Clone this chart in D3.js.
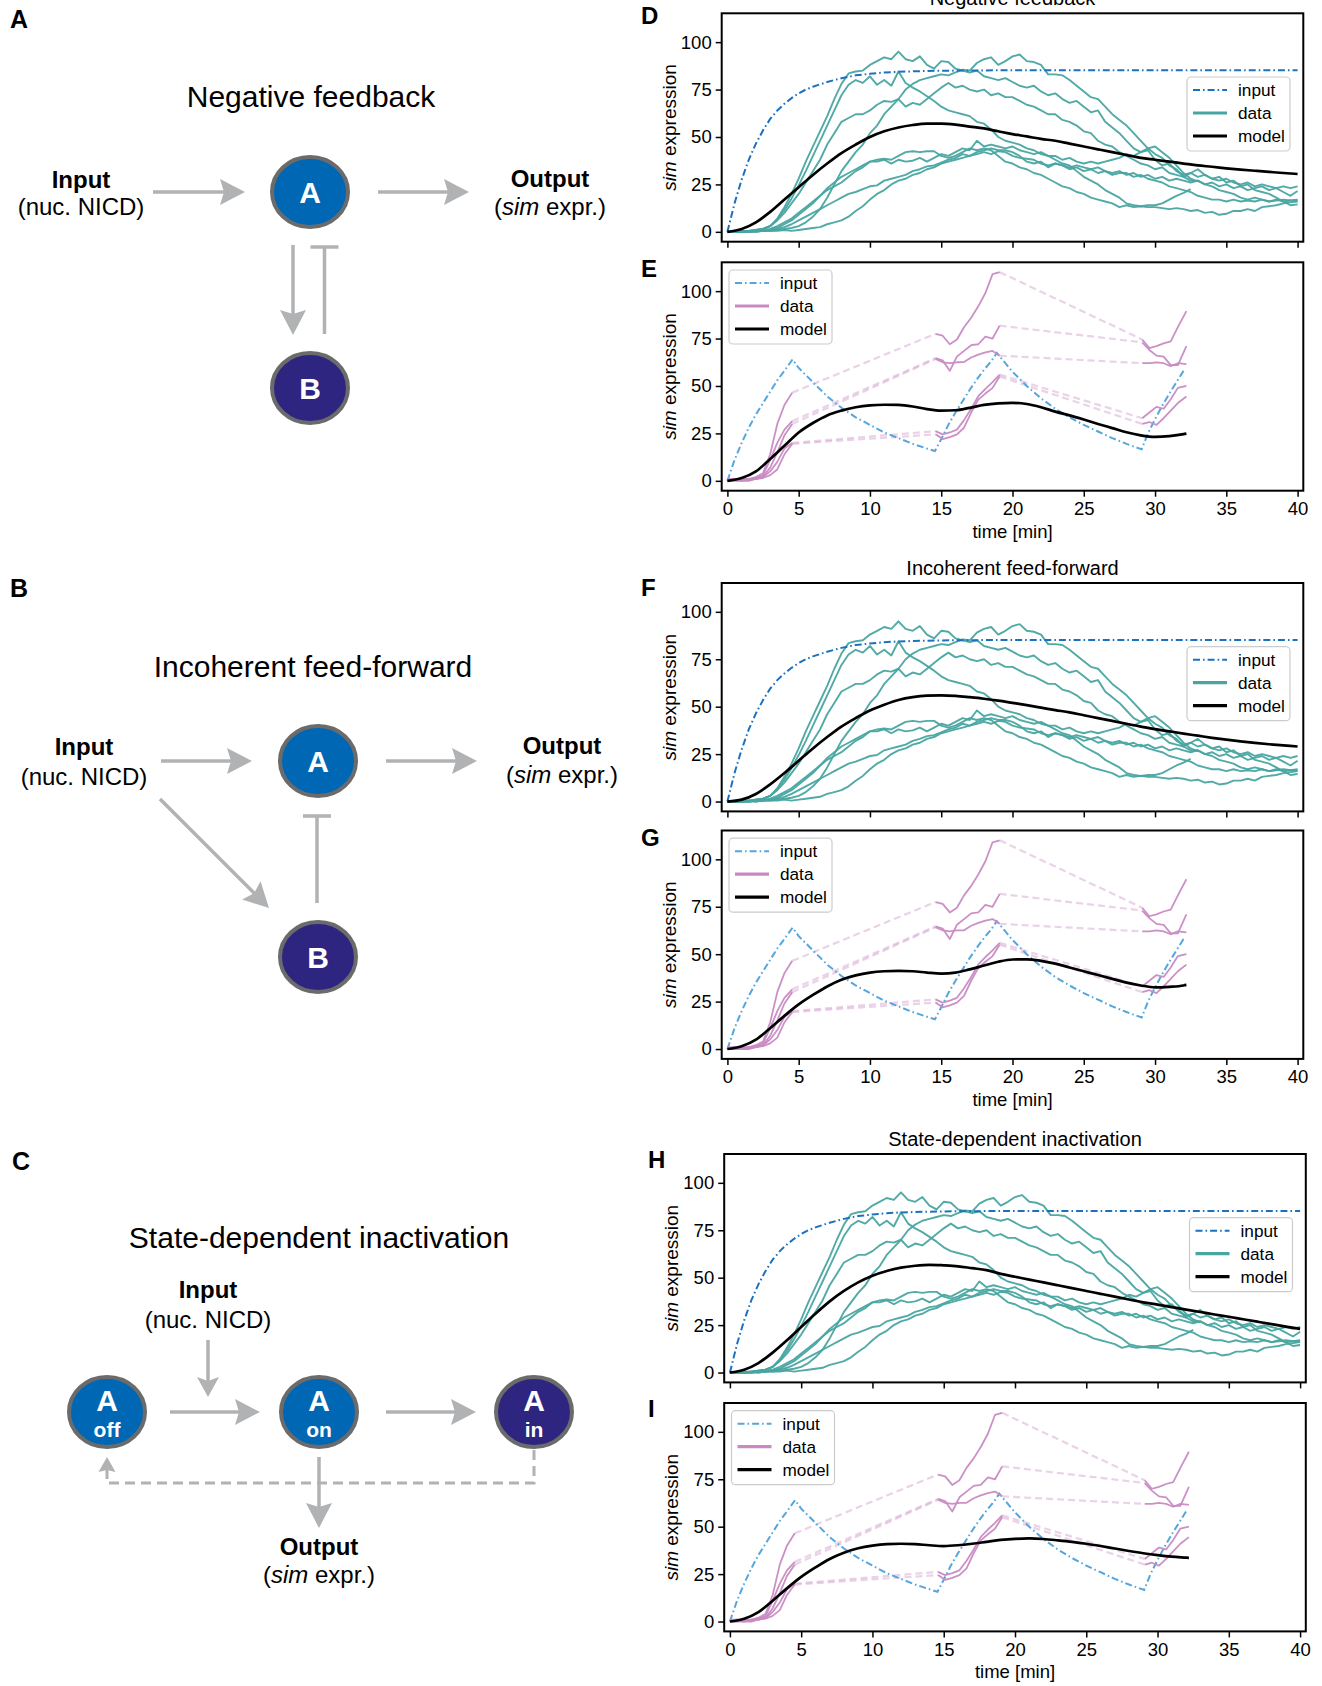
<!DOCTYPE html>
<html><head><meta charset="utf-8">
<script src="https://cdn.jsdelivr.net/npm/d3@7"></script>
<style>
body{margin:0;background:#fff}
svg{display:block}
text{font-family:"Liberation Sans",Arial,Helvetica,sans-serif}
</style>
</head><body>
<script>
// ================= DATA =================
const timeTicks = [0, 5, 10, 15, 20, 25, 30, 35, 40];
const exprTicks = [0, 25, 50, 75, 100];
const legendLabels = ["input", "data", "model"];
const diagramTitles = ["Negative feedback", "Incoherent feed-forward", "State-dependent inactivation"];

// continuous (sustained) input
const contInputTimes  = [0,0.5,1,1.5,2,2.5,3,3.5,4,4.5,5,5.5,6,7,8,9,10,11,12,14,16,20,25,30,35,40];
const contInputValues = [0,15,27.5,38,46.5,53.5,59.5,64,67.5,70.5,73,75,76.5,79,81,82.5,83.3,84,84.4,84.8,85,85.2,85.2,85.2,85.2,85.2];

// continuous-input data traces, sampled every 0.5 min from t = 0
const contDataStep = 0.5;
const contData1 = [0,0,0.5,0.5,1,1.5, 3,7,13,20,28,37,45,53,61,70, 78,83.5,84.5,85,88,90,92,91,95,91, 90,92.5,88,86,90,89.5,86,85,84,85, 82,81,80,81,79,77,76,77,74,72, 73,70,68,69,66,63,64,58,55,52, 48,44,42,43,38,35,36,32,30,31, 29,30,28,27,28,26,25,26,24,25, 24,23,24,23,24];
const contData2 = [0,0,0,0,0,0.5, 0.5,1,1.5,2,3,5,8,12,18,25, 32,37,42,46,52,56,62,66,70,75, 78,80,81,82,83,82.5,84,85.5,85,89, 91,92,88,90,92.5,93.5,90,89.5,88,83, 83,82.5,80,77,74,71,70,66,62,59, 56,52,48,44,41,39,35,33,29,31, 33,30,28,29,26,27,24,25,22,21, 20,18,16,14,14.5];
const contData3 = [0,0,0,0.5,1,1.5, 3,6.5,11.5,17.5,24.5,32,40,48,56,64, 72,77.5,80,78.5,82,77.5,80,77,84.5,78.5, 76,74,71.5,69,66,64,63,62,61,58, 57,54,50,48,47,46,44,43,41,40, 38,36,35,32,29,27,25,22,20,18, 15,14,13.5,14,14,15,17,19,20.5,22.5];
const contData4 = [0,0,0,0.5,1,1.5, 3,6,10,15,20,26,32,38,46,52, 58,60,62,62,64,67,69,68.5,70,66, 68,67,70,73,76,78.5,76,77,75,74, 75,72,73,71,71,69,67,66,64,62, 62,59,58,56,53,52,48,46,45,42, 40,38,36,35,33,34,31,30,29,27, 27,25,24,22,21,20,18,17,18,17, 16,17,16,16.5,16.5];
const contData5 = [0,0,0,0,0.5,1, 1.5,3,5,7,10,13,16,19,22,24, 26,29,32,34,37,38,38.5,38,40,42, 42.5,42,42.5,42.5,40,39,40,42,44,43, 44,43,40,37,36,34,33,31,30,28, 26,24,23,21,20,18,17,16,15,13, 14,13,13.5,13,13,12.5,12,12.5,12,11, 11.5,10,10.5,9,9.5,11,11,12,11,13, 13.5,14,15,15.5,16];
const contData6 = [0,0,0,0,0.5,0.5, 1,2,4,6,9,12,15,19,23,26, 29,31,33,35,37,37,38,36,38,37, 37.5,39,37,39,41,40,42,44,43,48, 45,46,45,44,45,43,42,41,42,40, 40,38,39,37,36,37,36,37,38,39, 41,40,42,44,45,42,39,35,31,28, 26.5];
const contData7 = [0,0,0,0.5,0,0.5, 0.5,0.5,1,0.5,1,1.5,2,2.5,4,5, 6,8,11,13.5,17,20,22,25,27,28, 30,31,33,34,36,37,38,39,40,41, 42,41,42.5,42,40,39,38.5,38,36,35, 36,35,34,35,34,33,34,32,31,32, 30,31,29,30,28,29,27,28,27,26, 27,25,26,24,25,23,24,22,23,24, 22,23,21,19,21.5];
const contData8 = [0,0,0,0,0.5,0.5, 1,1.5,2.5,4,6,8,10,12,14,16, 18,20,21,22.5,24,24.5,27,28,29,30, 32,33,34.5,35,36.5,38,39,41,40,42, 43,44,43,43,42,40,37,36,37,34, 36,35,33,34,32,33,31,32,30,31, 31,29,30,28,27,26,24,23,22,21, 19,18,17,17,16,17,16,16.5,16,17, 16,16.5,17,16.5,17];
const contDataTraces = [contData1, contData2, contData3, contData4, contData5, contData6, contData7, contData8];

// model fits for the sustained input (t = 0..40 min, every 1 min)
const modelContTimes = [0,1,2,3,4,5,6,7,8,9,10,11,12,13,14,15,16,17,18,19,20,21,22,23,24,25,26,27,28,29,30,31,32,33,34,35,36,37,38,39,40];
const modelNegFeedbackCont = [0,1.5,5,10.5,17,23.5,30,36,41.5,46,50,53,55,56.3,57,57,56.5,55.5,54.5,53,51.5,50.3,49,48,46.5,45,43.5,42,40.5,39,38,37,36,35,34.3,33.5,32.8,32.2,31.6,31,30.5];
const modelFeedForwardCont = [0,1,4,9,15,21.5,28,34,39.5,44,48,51,53.5,55,55.8,56,55.7,55,54.2,53.2,52,50.8,49.5,48.2,47,45.5,44,42.5,41,39.5,38.2,37,35.8,34.7,33.6,32.6,31.7,30.9,30.2,29.6,29];
const modelStateDepCont = [0,1.5,5,10.5,17,24,31,37.5,43,47.5,51,53.5,55.3,56.3,56.8,56.5,56,55,54,52,50.5,49,47.5,46,44.5,43,41.5,40,38.5,37,35.8,34.5,33.2,31.9,30.6,29.4,28.1,26.8,25.5,24.2,23];

// pulsed input
const pulseInputTimes  = [0,0.5,1,1.5,2,2.5,3,3.5,4,4.57, 5,6,7,8,9,10,11,12,13,14,14.56, 15,15.5,16,16.5,17,17.5,18,18.5,18.9, 19.5,20,21,22,23,24,25,26,27,28,29.06, 29.5,30,30.5,31,31.5,32];
const pulseInputValues = [0,11,20,28,35,41,47,53,58,64, 59.5,52,44.5,38.5,33.5,29.5,25.5,22.5,19.5,17,15.7, 22,29.5,36,42,48,53.5,58.5,63,67.4, 62,57.5,50,43.5,38,33.5,29.5,26,22.5,19.5,16.6, 25,32.5,39.5,46,52,58];

// pulsed-input data: three imaging windows per trace
const pulseWin1Times = [0,0.5,1,1.5,2,2.5,3,3.5,4,4.55];
const pulseWin2Times = [14.6,15.1,15.6,16.1,16.6,17.1,17.6,18.1,18.6,19.1];
const pulseWin3Times = [29.1,29.6,30.1,30.6,31.1,31.6,32.2];
const pulseData1 = [[0,1,1,1,2,4,14,30,40,46.5],[77.5,76.5,72,74.5,81,86,92,99,109,110],[74.5,70,71,72.5,73.5,81,89.5]];
const pulseData2 = [[0,0.5,0.5,0.5,1.5,3,11,20,27,31.5],[64.7,63.5,58,65.5,68.5,71.5,72,76,75,81.8],[73,69,66,65.5,61,61,71]];
const pulseData3 = [[0.5,0.5,0,0,1,2,7,15,24,30],[64.2,62.5,62,62.5,62.6,65,66.5,67.7,68.5,66],[62,62,62.5,62,60.5,62,61.5]];
const pulseData4 = [[1,1,0.5,0.5,1,2,5,10,17,20],[26.2,24.5,25.5,27,32,38,44.6,48.5,52,56],[33,36,39,38,43,49,50]];
const pulseData5 = [[0,0,0,1,1,1.5,3,6,14,19.5],[24.5,22,23,24.5,28,36,42.8,46,49,55],[30,31,29.5,33,37,41,44.5]];
const pulseDataTraces = [pulseData1, pulseData2, pulseData3, pulseData4, pulseData5];

// model fits for the pulsed input
const modelPulseTimes = [0,1,2,3,4,5,6,7,8,9,10,11,12,13,14,15,16,17,18,19,20,21,22,23,24,25,26,27,28,29,30,31,32,32.2];
const modelNegFeedbackPulse = [0,1.5,5,11.5,18.5,25.5,30.5,34.5,37,38.8,39.8,40.1,40,39.2,37.8,37,37.2,38.5,40,40.8,41.1,40.5,38.8,36.5,34.5,32.3,30,27.8,25.6,24,23.2,23.6,24.6,24.9];
const modelFeedForwardPulse = [0,1.5,5,11,17.5,23.5,28.5,33,36.5,38.8,40.3,41,41.2,41,40.3,39.8,40.3,42,44,46,47.2,47.3,46.5,45,43,41,39,37,35,33.5,32.5,32.8,33.5,33.8];
const modelStateDepPulse = [0,1.5,5,11,17.5,23.5,28.5,33,36.3,38.6,40,40.8,41,40.8,40.2,39.8,40.2,41,42,43,43.6,43.8,43.5,42.8,42,41,39.8,38.5,37.2,36,35,34.2,33.7,33.6];

// ================= STYLE =================
const C = {
  teal: "#48a5a1", pink: "#c88ac3", inputDark: "#1b70c2", inputLight: "#55a6dc",
  model: "#000", gray: "#b1b2b4", nodeBlue: "#0067b4", nodeNavy: "#2e2581", nodeStroke: "#6b6b6b"
};
const FONT = '"Liberation Sans",Arial,sans-serif';

const svg = d3.select("body").append("svg").attr("width", 1322).attr("height", 1686);

// ================= CHART PANELS =================
const PW = 581.6, PH = 228.4;
const panels = [
  {letter:"D", kind:"cont",  left:721.7, top:13.3,  model:modelNegFeedbackCont, title:"Negative feedback", titleY:5, xlab:false, lx:641, ly:24},
  {letter:"E", kind:"pulse", left:721.7, top:262.3, model:modelNegFeedbackPulse, xlab:true, lx:641, ly:277},
  {letter:"F", kind:"cont",  left:721.7, top:583,   model:modelFeedForwardCont, title:"Incoherent feed-forward", titleY:575, xlab:false, lx:641, ly:596},
  {letter:"G", kind:"pulse", left:721.7, top:830.5, model:modelFeedForwardPulse, xlab:true, lx:641, ly:846},
  {letter:"H", kind:"cont",  left:724.2, top:1154,  model:modelStateDepCont, title:"State-dependent inactivation", titleY:1146, xlab:false, lx:648, ly:1168},
  {letter:"I", kind:"pulse", left:724.2, top:1403,  model:modelStateDepPulse, xlab:true, lx:648, ly:1417}
];

panels.forEach((p, i) => {
  const x = d3.scaleLinear().domain([-0.4, 40.4]).range([p.left, p.left + PW]);
  const y = d3.scaleLinear().domain([-5.2, 115.2]).range([p.top + PH, p.top]);
  const g = svg.append("g");
  const clipId = "clip" + i;
  svg.append("clipPath").attr("id", clipId).append("rect")
    .attr("x", p.left).attr("y", p.top).attr("width", PW).attr("height", PH);
  const plot = g.append("g").attr("clip-path", `url(#${clipId})`);
  const line = d3.line().x(d => x(d[0])).y(d => y(d[1]));
  const smooth = d3.line().x(d => x(d[0])).y(d => y(d[1])).curve(d3.curveMonotoneX);

  if (p.kind === "cont") {
    contDataTraces.forEach(tr => {
      const pts = tr.map((v, k) => [k * contDataStep, v]);
      plot.append("path").attr("d", line(pts)).attr("fill", "none")
        .attr("stroke", C.teal).attr("stroke-width", 1.9).attr("stroke-linejoin", "round").attr("opacity", 0.95);
    });
    plot.append("path").attr("d", line(contInputTimes.map((t, k) => [t, contInputValues[k]])))
      .attr("fill", "none").attr("stroke", C.inputDark).attr("stroke-width", 2)
      .attr("stroke-dasharray", "7,3,1.6,3");
    plot.append("path").attr("d", smooth(modelContTimes.map((t, k) => [t, p.model[k]])))
      .attr("fill", "none").attr("stroke", C.model).attr("stroke-width", 2.7);
  } else {
    pulseDataTraces.forEach(tr => {
      const a = [[pulseWin1Times[pulseWin1Times.length - 1], tr[0][tr[0].length - 1]], [pulseWin2Times[0], tr[1][0]]];
      const b = [[pulseWin2Times[pulseWin2Times.length - 1], tr[1][tr[1].length - 1]], [pulseWin3Times[0], tr[2][0]]];
      [a, b].forEach(seg => plot.append("path").attr("d", line(seg)).attr("fill", "none")
        .attr("stroke", C.pink).attr("stroke-width", 2.2).attr("stroke-opacity", 0.38)
        .attr("stroke-dasharray", "7,4"));
    });
    plot.append("path").attr("d", line(pulseInputTimes.map((t, k) => [t, pulseInputValues[k]])))
      .attr("fill", "none").attr("stroke", C.inputLight).attr("stroke-width", 2)
      .attr("stroke-dasharray", "7,3,1.6,3");
    pulseDataTraces.forEach(tr => {
      [pulseWin1Times, pulseWin2Times, pulseWin3Times].forEach((times, w) => {
        plot.append("path").attr("d", line(times.map((t, k) => [t, tr[w][k]])))
          .attr("fill", "none").attr("stroke", C.pink).attr("stroke-width", 1.8)
          .attr("stroke-linejoin", "round").attr("opacity", 0.95);
      });
    });
    plot.append("path").attr("d", smooth(modelPulseTimes.map((t, k) => [t, p.model[k]])))
      .attr("fill", "none").attr("stroke", C.model).attr("stroke-width", 2.7);
  }

  // axes
  const xa = d3.axisBottom(x).tickValues(timeTicks).tickSize(6).tickPadding(5);
  if (!p.xlab) xa.tickFormat("");
  const gx = g.append("g").attr("transform", `translate(0,${p.top + PH})`).call(xa);
  const ya = d3.axisLeft(y).tickValues(exprTicks).tickSize(6).tickPadding(4);
  const gy = g.append("g").attr("transform", `translate(${p.left},0)`).call(ya);
  [gx, gy].forEach(ax => {
    ax.select(".domain").remove();
    ax.selectAll(".tick line").attr("stroke", "#000").attr("stroke-width", 1.5);
    ax.selectAll(".tick text").attr("font-family", FONT).attr("font-size", 18.5).attr("fill", "#000");
  });
  g.append("rect").attr("x", p.left).attr("y", p.top).attr("width", PW).attr("height", PH)
    .attr("fill", "none").attr("stroke", "#000").attr("stroke-width", 2);

  // y label
  const yl = g.append("text").attr("transform", `translate(${p.left - 46},${p.top + PH / 2}) rotate(-90)`)
    .attr("text-anchor", "middle").attr("font-size", 19);
  yl.append("tspan").attr("font-style", "italic").text("sim");
  yl.append("tspan").text(" expression");

  if (p.xlab) {
    g.append("text").attr("x", p.left + PW / 2).attr("y", p.top + PH + 47)
      .attr("text-anchor", "middle").attr("font-size", 18.5).text("time [min]");
  }
  if (p.title) {
    g.append("text").attr("x", p.left + PW / 2).attr("y", p.titleY)
      .attr("text-anchor", "middle").attr("font-size", 20).text(p.title);
  }
  g.append("text").attr("x", p.lx).attr("y", p.ly).attr("font-size", 24).attr("font-weight", "bold").text(p.letter);

  // legend
  const lg = g.append("g");
  const bw = 103, bh = 74;
  const bx = p.kind === "cont" ? p.left + PW - 116.3 : p.left + 7.3;
  const by = p.kind === "cont" ? p.top + 63.7 : p.top + 7.7;
  lg.append("rect").attr("x", bx).attr("y", by).attr("width", bw).attr("height", bh).attr("rx", 4)
    .attr("fill", "#fff").attr("fill-opacity", 0.85).attr("stroke", "#cccccc").attr("stroke-width", 1.2);
  const rowsY = [13, 36, 59];
  const handleStyles = [
    {stroke: p.kind === "cont" ? C.inputDark : C.inputLight, w: 2, dash: "7,3,1.6,3"},
    {stroke: p.kind === "cont" ? C.teal : C.pink, w: 3.2, dash: null},
    {stroke: C.model, w: 3.2, dash: null}
  ];
  legendLabels.forEach((lab, k) => {
    const hy = by + rowsY[k];
    const l = lg.append("line").attr("x1", bx + 6).attr("x2", bx + 40).attr("y1", hy).attr("y2", hy)
      .attr("stroke", handleStyles[k].stroke).attr("stroke-width", handleStyles[k].w);
    if (handleStyles[k].dash) l.attr("stroke-dasharray", handleStyles[k].dash);
    lg.append("text").attr("x", bx + 51).attr("y", hy + 6).attr("font-size", 17.2).text(lab);
  });
});

// ================= DIAGRAMS =================
const dg = svg.append("g");
function arrow(x1, y1, x2, y2, opt) {
  opt = opt || {};
  const L = opt.len || 25, hw = opt.half || 13, notch = opt.notch || 4, sw = opt.sw || 3.5;
  const ang = Math.atan2(y2 - y1, x2 - x1);
  const ex = x2 - Math.cos(ang) * (L - notch - 1), ey = y2 - Math.sin(ang) * (L - notch - 1);
  if (!opt.noLine) dg.append("line").attr("x1", x1).attr("y1", y1).attr("x2", ex).attr("y2", ey)
    .attr("stroke", C.gray).attr("stroke-width", sw);
  dg.append("path").attr("d", `M0,0 L${-L},${-hw} L${-L + notch},0 L${-L},${hw} Z`)
    .attr("transform", `translate(${x2},${y2}) rotate(${ang * 180 / Math.PI})`).attr("fill", C.gray);
}
function inhibit(x, y1, y2, half) {
  dg.append("line").attr("x1", x).attr("y1", y1).attr("x2", x).attr("y2", y2).attr("stroke", C.gray).attr("stroke-width", 3.5);
  dg.append("line").attr("x1", x - half).attr("x2", x + half).attr("y1", y2).attr("y2", y2).attr("stroke", C.gray).attr("stroke-width", 3.5);
}
function node(cx, cy, fill) {
  dg.append("ellipse").attr("cx", cx).attr("cy", cy).attr("rx", 38).attr("ry", 35)
    .attr("fill", fill).attr("stroke", C.nodeStroke).attr("stroke-width", 4);
}
function nodeLetter(cx, cy, s) {
  dg.append("text").attr("x", cx).attr("y", cy + 10.5).attr("text-anchor", "middle")
    .attr("font-size", 30).attr("font-weight", "bold").attr("fill", "#fff").text(s);
}
function nodeState(cx, cy, sub) {
  dg.append("text").attr("x", cx).attr("y", cy - 1.5).attr("text-anchor", "middle")
    .attr("font-size", 30).attr("font-weight", "bold").attr("fill", "#fff").text("A");
  dg.append("text").attr("x", cx).attr("y", cy + 24.5).attr("text-anchor", "middle")
    .attr("font-size", 21).attr("font-weight", "bold").attr("fill", "#fff").text(sub);
}
function txt(x, y, s, size, bold) {
  return dg.append("text").attr("x", x).attr("y", y).attr("text-anchor", "middle")
    .attr("font-size", size).attr("font-weight", bold ? "bold" : "normal").text(s);
}
function inputLabel(x, y1, y2) { txt(x, y1, "Input", 24, true); txt(x, y2, "(nuc. NICD)", 24, false); }
function outputLabel(x, y1, y2) {
  txt(x, y1, "Output", 24, true);
  const t = dg.append("text").attr("x", x).attr("y", y2).attr("text-anchor", "middle").attr("font-size", 24);
  t.append("tspan").text("(");
  t.append("tspan").attr("font-style", "italic").text("sim");
  t.append("tspan").text(" expr.)");
}
function panelLetter(x, y, s) {
  dg.append("text").attr("x", x).attr("y", y).attr("font-size", 25).attr("font-weight", "bold").text(s);
}

// ---- A: negative feedback
panelLetter(10, 28, "A");
txt(311, 107, diagramTitles[0], 30, false);
inputLabel(81, 188, 215);
outputLabel(550, 187, 215);
arrow(153, 192, 245, 192);
arrow(378, 192, 469, 192);
arrow(293, 245, 293, 335);
inhibit(324.5, 334, 247, 14);
node(310, 192, C.nodeBlue); nodeLetter(310, 192, "A");
node(310, 388, C.nodeNavy); nodeLetter(310, 388, "B");

// ---- B: incoherent feed-forward
panelLetter(10, 597, "B");
txt(313, 677, diagramTitles[1], 30, false);
inputLabel(84, 755, 785);
outputLabel(562, 754, 783);
arrow(161, 761, 252, 761);
arrow(386, 761, 477, 761);
arrow(160, 799, 269, 908);
inhibit(317, 903, 816, 14);
node(318, 761, C.nodeBlue); nodeLetter(318, 761, "A");
node(318, 957, C.nodeNavy); nodeLetter(318, 957, "B");

// ---- C: state-dependent inactivation
panelLetter(12, 1170, "C");
txt(319, 1248, diagramTitles[2], 30, false);
inputLabel(208, 1298, 1328);
arrow(208, 1340, 208, 1397, {len: 20, half: 11});
arrow(170, 1412, 260, 1412);
arrow(386, 1412, 476, 1412);
arrow(319, 1457, 319, 1528);
outputLabel(319, 1555, 1583);
dg.append("path").attr("d", "M534,1450 V1483 H107 V1468").attr("fill", "none")
  .attr("stroke", C.gray).attr("stroke-width", 3).attr("stroke-dasharray", "10,6");
arrow(107, 1470, 107, 1457, {len: 15, half: 8.5, notch: 2, noLine: true});
node(107, 1412, C.nodeBlue); nodeState(107, 1412, "off");
node(319, 1412, C.nodeBlue); nodeState(319, 1412, "on");
node(534, 1412, C.nodeNavy); nodeState(534, 1412, "in");
</script>
</body></html>
